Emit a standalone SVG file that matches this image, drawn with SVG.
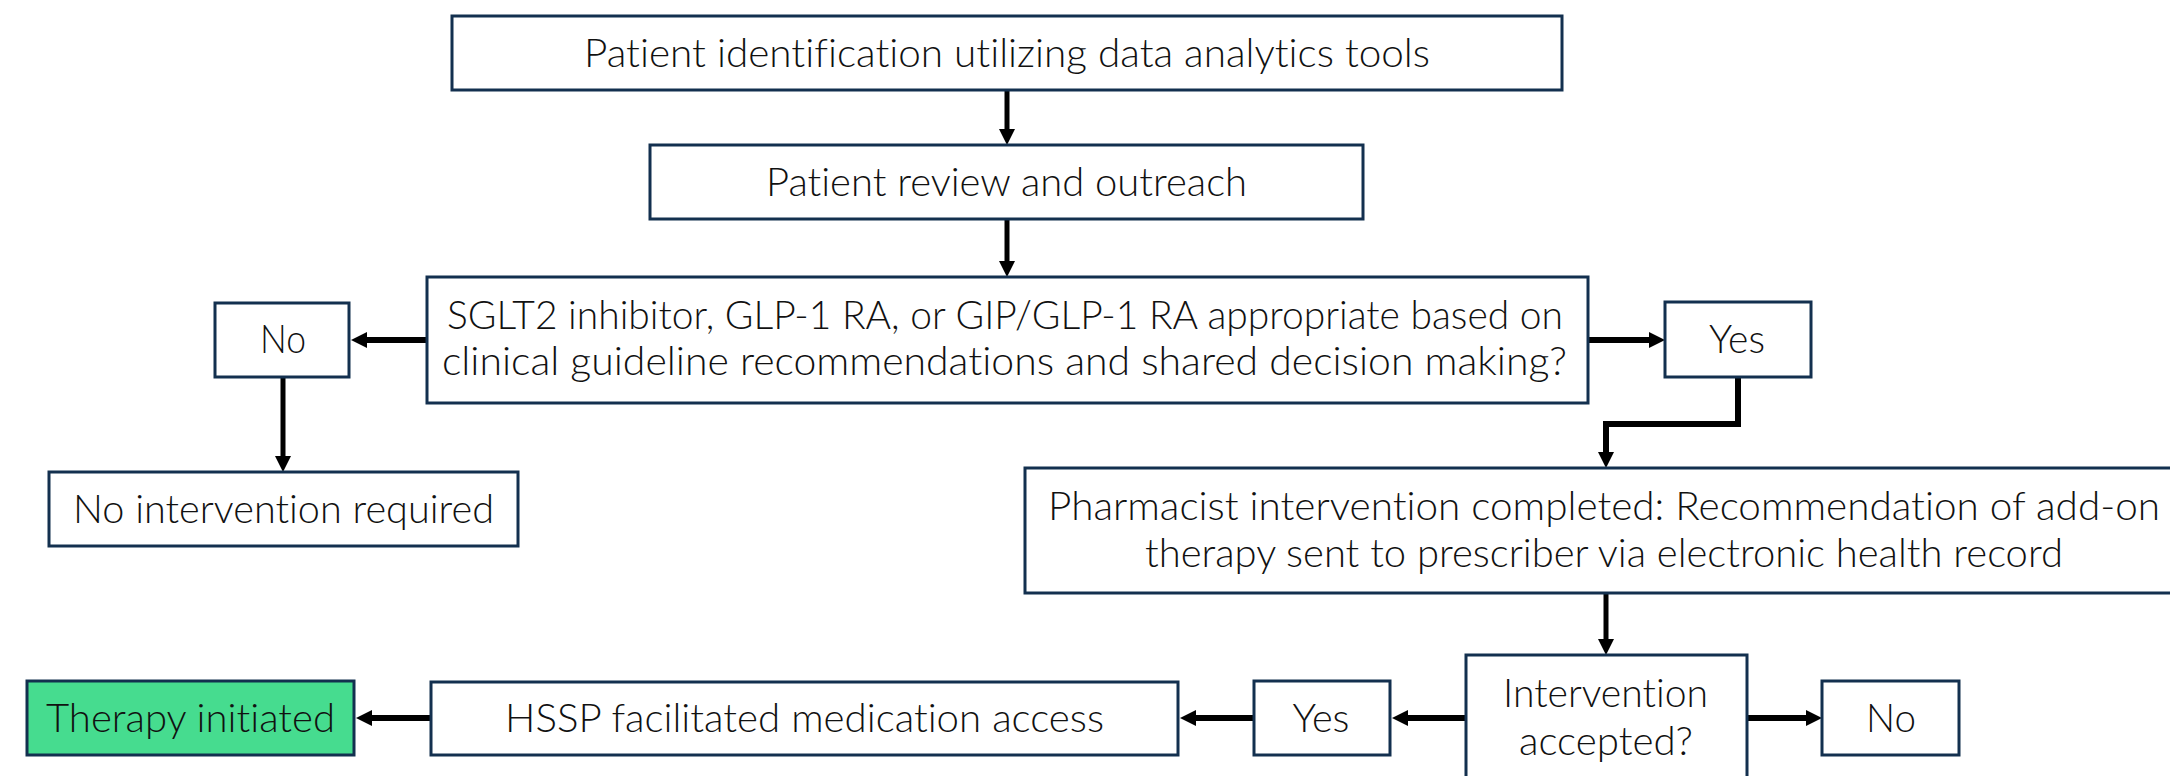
<svg xmlns="http://www.w3.org/2000/svg" width="2170" height="776" viewBox="0 0 2170 776">
  <defs>
    <style>
      .box { fill: #ffffff; stroke: #13304f; stroke-width: 3; }
      .go { fill: #46dc8f; }
      .lbl { font-family: "Lato", "Liberation Sans", sans-serif; font-weight: 300; font-size: 40px; fill: #111111; text-anchor: middle; font-variant-ligatures: none; font-feature-settings: "liga" 0; }
      .wire { fill: none; stroke: #000000; stroke-width: 5; marker-end: url(#head); }
      .wire.h { stroke-width: 6; }
    </style>
    <marker id="head" markerUnits="userSpaceOnUse" viewBox="0 0 16 16" markerWidth="16" markerHeight="16" refX="1" refY="8" orient="auto">
      <path d="M0,0 L16,8 L0,16 z" fill="#000000"/>
    </marker>
  </defs>

  <rect width="2170" height="776" fill="#ffffff"/>

  <!-- connectors -->
  <g id="connectors">
    <path class="wire" d="M1007,90 V130"/>
    <path class="wire" d="M1007,219 V262"/>
    <path class="wire h" d="M427,340 H366"/>
    <path class="wire h" d="M1588,340 H1650"/>
    <path class="wire" d="M283,377 V457"/>
    <path class="wire h" d="M1738,377 V424 H1606 V453"/>
    <path class="wire" d="M1606,593 V640"/>
    <path class="wire h" d="M1466,718 H1407"/>
    <path class="wire h" d="M1254,718 H1195"/>
    <path class="wire h" d="M431,718 H371"/>
    <path class="wire h" d="M1747,718 H1807"/>
  </g>

  <!-- nodes -->
  <g id="identify">
    <rect class="box" x="452" y="16" width="1110" height="74"/>
    <text class="lbl" x="1007" y="67" textLength="846" lengthAdjust="spacingAndGlyphs">Patient identification utilizing data analytics tools</text>
  </g>

  <g id="review">
    <rect class="box" x="650" y="145" width="713" height="74"/>
    <text class="lbl" x="1006.5" y="196" textLength="481" lengthAdjust="spacingAndGlyphs">Patient review and outreach</text>
  </g>

  <g id="appropriate">
    <rect class="box" x="427" y="277" width="1161" height="126"/>
    <text class="lbl" x="1005" y="329" textLength="1116" lengthAdjust="spacingAndGlyphs">SGLT2 inhibitor, GLP-1 RA, or GIP/GLP-1 RA appropriate based on</text>
    <text class="lbl" x="1004.5" y="375" textLength="1125" lengthAdjust="spacingAndGlyphs">clinical guideline recommendations and shared decision making?</text>
  </g>

  <g id="no-top">
    <rect class="box" x="215" y="303" width="134" height="74"/>
    <text class="lbl" x="283" y="353" textLength="46" lengthAdjust="spacingAndGlyphs">No</text>
  </g>

  <g id="no-intervention">
    <rect class="box" x="49" y="472" width="469" height="74"/>
    <text class="lbl" x="283.5" y="523" textLength="421" lengthAdjust="spacingAndGlyphs">No intervention required</text>
  </g>

  <g id="yes-top">
    <rect class="box" x="1665" y="302" width="146" height="75"/>
    <text class="lbl" x="1737" y="353" textLength="56" lengthAdjust="spacingAndGlyphs">Yes</text>
  </g>

  <g id="pharmacist">
    <rect class="box" x="1025" y="468" width="1160" height="125"/>
    <text class="lbl" x="1604" y="520" textLength="1112" lengthAdjust="spacingAndGlyphs">Pharmacist intervention completed: Recommendation of add-on</text>
    <text class="lbl" x="1604" y="567" textLength="918" lengthAdjust="spacingAndGlyphs">therapy sent to prescriber via electronic health record</text>
  </g>

  <g id="accepted">
    <rect class="box" x="1466" y="655" width="281" height="135"/>
    <text class="lbl" x="1605.5" y="707" textLength="205" lengthAdjust="spacingAndGlyphs">Intervention</text>
    <text class="lbl" x="1606" y="755" textLength="174" lengthAdjust="spacingAndGlyphs">accepted?</text>
  </g>

  <g id="yes-bottom">
    <rect class="box" x="1254" y="681" width="136" height="74"/>
    <text class="lbl" x="1321" y="732" textLength="57" lengthAdjust="spacingAndGlyphs">Yes</text>
  </g>

  <g id="no-bottom">
    <rect class="box" x="1822" y="681" width="137" height="74"/>
    <text class="lbl" x="1891" y="732" textLength="50" lengthAdjust="spacingAndGlyphs">No</text>
  </g>

  <g id="hssp">
    <rect class="box" x="431" y="682" width="747" height="73"/>
    <text class="lbl" x="804.5" y="732" textLength="599" lengthAdjust="spacingAndGlyphs">HSSP facilitated medication access</text>
  </g>

  <g id="therapy">
    <rect class="box go" x="27" y="681" width="327" height="74"/>
    <text class="lbl" x="190.5" y="732" textLength="289" lengthAdjust="spacingAndGlyphs">Therapy initiated</text>
  </g>
</svg>
